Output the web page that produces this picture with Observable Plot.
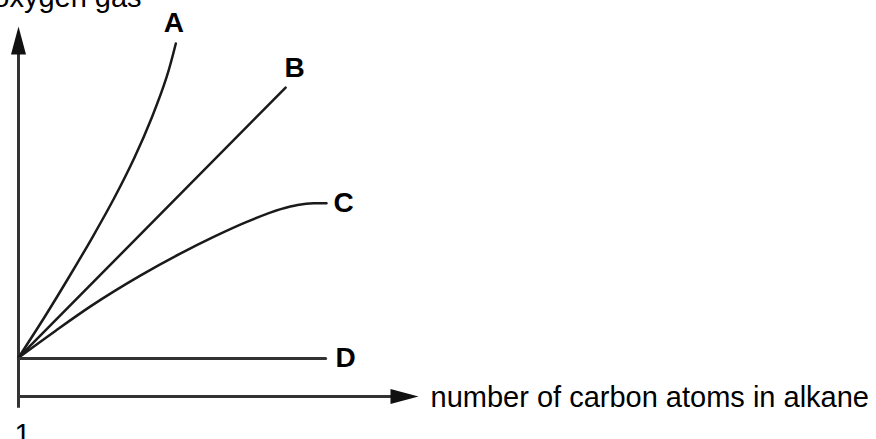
<!DOCTYPE html>
<html>
<head>
<meta charset="utf-8">
<script src="https://cdn.jsdelivr.net/npm/d3@7"></script>
<script src="https://cdn.jsdelivr.net/npm/@observablehq/plot@0.6"></script>
<style>
  html, body { margin: 0; padding: 0; background: #ffffff; overflow: hidden; }
  #chart svg { display: block; overflow: visible; }
</style>
</head>
<body>
<div id="chart"></div>
<script>
// ---- data (arbitrary units) ----
const curveLabels = ["A", "B", "C", "D"];
const carbonA = [1, 1.58, 2.13, 2.66, 3.16, 3.61, 4.00, 4.33, 4.54];
const oxygenA = [10.5, 21.35, 32.16, 42.97, 53.78, 64.59, 75.41, 86.22, 95.41];
const carbonB = [1, 7.01];
const oxygenB = [10.5, 83.5];
const carbonC = [1, 1.83, 2.62, 3.75, 4.65, 5.39, 6.15, 6.9, 7.28, 7.64, 7.93];
const oxygenC = [10.5, 17.73, 24.35, 32.73, 38.68, 43.14, 47.27, 50.65, 51.78, 52.22, 52.24];
const carbonD = [1, 7.91];
const oxygenD = [10.3, 10.3];
const xTickLabels = ["1"];
const xAxisTitle = "number of carbon atoms in alkane";
const yAxisTitle = "oxygen gas";

// ---- tables built from the arrays ----
const series = [
  {label: curveLabels[0], xs: carbonA, ys: oxygenA},
  {label: curveLabels[1], xs: carbonB, ys: oxygenB},
  {label: curveLabels[2], xs: carbonC, ys: oxygenC},
  {label: curveLabels[3], xs: carbonD, ys: oxygenD}
];
const rows = series.flatMap(s => s.xs.map((x, i) => ({label: s.label, x, y: s.ys[i]})));
const ends = series.map(s => ({label: s.label, x: s.xs[s.xs.length - 1], y: s.ys[s.ys.length - 1]}));
const byLabel = l => rows.filter(r => r.label === l);
const endOf = l => ends.filter(e => e.label === l);

const xMin = 1, xMax = 10, yMin = 0, yMax = 100;

// filled arrowhead symbol: tip at (0,0), pointing up
const arrowHead = {
  draw(context, size) {
    context.moveTo(0, 0);
    context.lineTo(7.5, 28);
    context.lineTo(-7.5, 28);
    context.closePath();
  }
};

const font = "'Liberation Sans', Arial, Helvetica, sans-serif";
const ink = "#1a1a1a";
const axisInk = "#333333";

const chart = Plot.plot({
  width: 876,
  height: 439,
  marginLeft: 18,
  marginRight: 458,
  marginTop: 26,
  marginBottom: 43,
  x: {domain: [xMin, xMax], axis: null},
  y: {domain: [yMin, yMax], axis: null},
  style: {background: "#ffffff", fontFamily: font, overflow: "visible"},
  marks: [
    // axes
    Plot.ruleX([xMin], {y1: -3.2, y2: 95, stroke: axisInk, strokeWidth: 3}),
    Plot.ruleY([yMin], {x1: xMin, x2: 9.5, stroke: axisInk, strokeWidth: 3}),
    Plot.dot([{x: xMin, y: yMax}], {x: "x", y: "y", symbol: arrowHead, fill: "#111", stroke: "none", r: 10}),
    Plot.dot([{x: xMax, y: yMin}], {x: "x", y: "y", symbol: arrowHead, rotate: 90, fill: "#111", stroke: "none", r: 10}),
    // curves
    Plot.line(byLabel("A"), {x: "x", y: "y", curve: "catmull-rom", stroke: ink, strokeWidth: 2.5}),
    Plot.line(byLabel("B"), {x: "x", y: "y", stroke: ink, strokeWidth: 2.5}),
    Plot.line(byLabel("C"), {x: "x", y: "y", curve: "monotone-x", stroke: ink, strokeWidth: 2.5}),
    Plot.line(byLabel("D"), {x: "x", y: "y", stroke: axisInk, strokeWidth: 3}),
    // curve labels
    Plot.text(endOf("A"), {x: "x", y: "y", text: "label", dx: -2, dy: -20, fontSize: 28, fontWeight: "bold", fill: "#000"}),
    Plot.text(endOf("B"), {x: "x", y: "y", text: "label", dx: 9, dy: -20, fontSize: 28, fontWeight: "bold", fill: "#000"}),
    Plot.text(endOf("C"), {x: "x", y: "y", text: "label", dx: 17, dy: 0, fontSize: 28, fontWeight: "bold", fill: "#000"}),
    Plot.text(endOf("D"), {x: "x", y: "y", text: "label", dx: 20, dy: 0, fontSize: 28, fontWeight: "bold", fill: "#000"}),
    // axis texts
    Plot.text([xAxisTitle], {x: xMax, y: yMin, text: d => d, textAnchor: "start", dx: 12, dy: 1, fontSize: 29, fill: "#000"}),
    Plot.text(xTickLabels, {x: d => +d, y: yMin, text: d => d, textAnchor: "middle", lineAnchor: "top", dx: 4, dy: 27, fontSize: 29, fill: "#000"}),
    Plot.text([yAxisTitle], {x: 3.77, y: yMax, text: d => d, textAnchor: "end", lineAnchor: "bottom", dy: -20, fontSize: 29, fill: "#000"})
  ]
});

document.getElementById("chart").appendChild(chart);
</script>
</body>
</html>
